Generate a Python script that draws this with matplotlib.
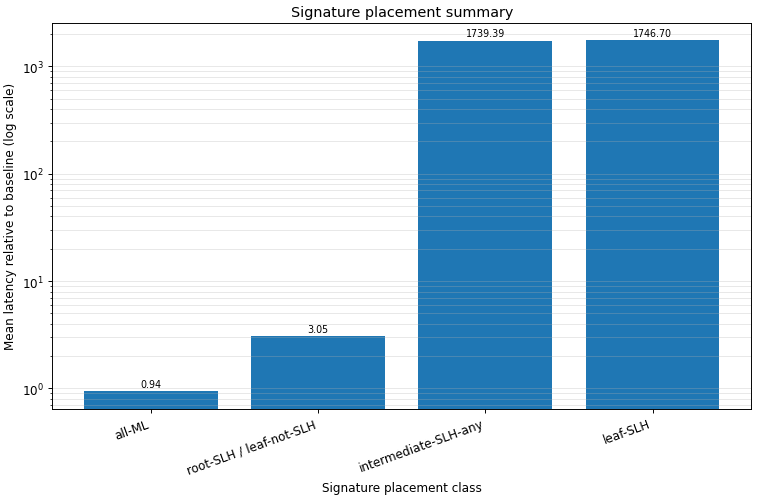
import matplotlib.pyplot as plt

categories = ["all-ML", "root-SLH / leaf-not-SLH", "intermediate-SLH-any", "leaf-SLH"]
values = [0.94, 3.05, 1739.39, 1746.70]

fig, ax = plt.subplots(figsize=(758 / 86, 498 / 86), dpi=86)
bars = ax.bar(categories, values, color="#1f77b4")
ax.set_yscale("log")
ax.bar_label(bars, labels=[f"{v:.2f}" for v in values], fontsize=8, padding=2)

ax.set_title("Signature placement summary")
ax.set_xlabel("Signature placement class")
ax.set_ylabel("Mean latency relative to baseline (log scale)")
ax.grid(True, which="both", axis="y", alpha=0.3)
plt.setp(ax.get_xticklabels(), rotation=20, ha="right")

fig.subplots_adjust(left=0.069, right=0.991, top=0.952, bottom=0.177)
fig.savefig("out.png")
